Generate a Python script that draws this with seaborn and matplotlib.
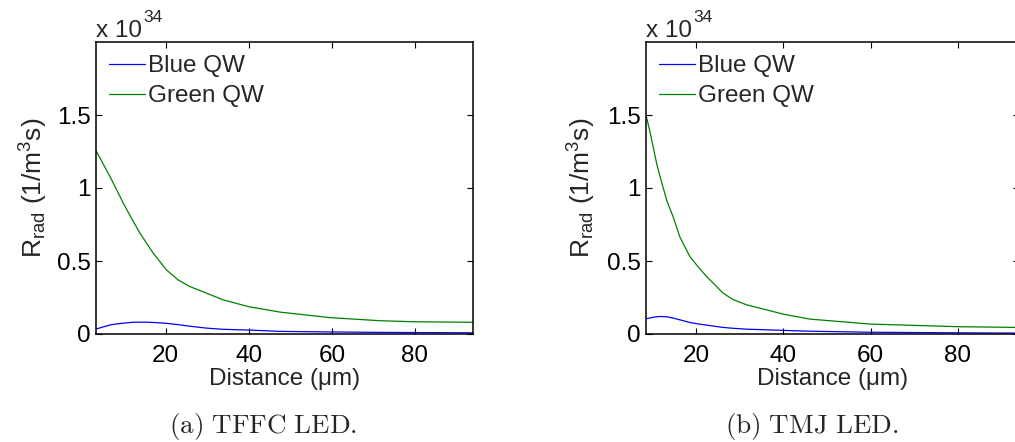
import matplotlib
matplotlib.use("Agg")
import matplotlib.pyplot as plt
import seaborn as sns
import pandas as pd

# ---- data (values in units of 1e34 1/(m^3 s)) ----
dist_a = [3.2, 6.6, 8.2, 9.8, 11.8, 13.8, 15.4, 17.0, 20.2, 23.0, 25.9, 29.9, 33.9, 40.0, 47.5, 59.6, 71.6, 79.6, 94.0]
green_a = [1.255, 1.077, 0.986, 0.895, 0.79, 0.69, 0.621, 0.553, 0.438, 0.37, 0.324, 0.279, 0.233, 0.187, 0.150, 0.112, 0.091, 0.084, 0.080]
blue_a = [0.034, 0.062, 0.069, 0.074, 0.080, 0.081, 0.081, 0.079, 0.073, 0.064, 0.053, 0.040, 0.032, 0.027, 0.018, 0.014, 0.011, 0.010, 0.008]

dist_b = [8.55, 9.5, 10.2, 11.0, 11.8, 13.3, 14.8, 16.3, 18.6, 20.5, 22.4, 26.2, 28.6, 31.6, 40.0, 46.1, 59.9, 80.1, 94.0]
green_b = [1.50, 1.38, 1.28, 1.166, 1.075, 0.915, 0.80, 0.665, 0.53, 0.46, 0.395, 0.28, 0.234, 0.20, 0.136, 0.102, 0.068, 0.050, 0.045]
blue_b = [0.104, 0.110, 0.115, 0.118, 0.120, 0.118, 0.109, 0.097, 0.079, 0.069, 0.061, 0.045, 0.039, 0.033, 0.025, 0.019, 0.012, 0.008, 0.006]

series_names = ["Blue QW", "Green QW"]
series_colors = ["#0000ff", "#008000"]
x_ticks = [20, 40, 60, 80]
y_ticks = [0, 0.5, 1, 1.5]
y_tick_labels = ["0", "0.5", "1", "1.5"]
captions = ["(a) TFFC LED.", "(b) TMJ LED."]

sns.set_style("ticks")
plt.rcParams["font.family"] = ["Liberation Sans", "DejaVu Sans"]
plt.rcParams["mathtext.fontset"] = "custom"
plt.rcParams["mathtext.rm"] = "Liberation Sans"
plt.rcParams["mathtext.it"] = "Liberation Sans:italic"
plt.rcParams["mathtext.bf"] = "Liberation Sans:bold"

W, H = 1015, 442
fig = plt.figure(figsize=(W / 100, H / 100), dpi=100)

def px_axes(l, t, r, b):
    return fig.add_axes([l / W, 1 - b / H, (r - l) / W, (b - t) / H])

panels = [
    (px_axes(96, 42, 473, 334), dist_a, blue_a, green_a, (3.2, 94.0), 263, -0.122),
    (px_axes(646, 42, 1019, 334), dist_b, blue_b, green_b, (8.55, 94.0), 812, -0.129),
]

FS = 17.5
for i, (ax, d, b, g, xl, cap_x, ylx) in enumerate(panels):
    df = pd.DataFrame({
        "Distance": d + d,
        "R": b + g,
        "Series": [series_names[0]] * len(d) + [series_names[1]] * len(d),
    })
    sns.lineplot(data=df, x="Distance", y="R", hue="Series", palette=series_colors,
                 hue_order=series_names, linewidth=0.9, ax=ax, legend=True)
    ax.set_xlim(*xl)
    ax.set_ylim(0, 2)
    ax.set_xticks(x_ticks)
    ax.set_yticks(y_ticks)
    ax.set_yticklabels(y_tick_labels)
    ax.tick_params(direction="in", length=4, width=0.8, labelsize=FS,
                   top=True, right=True, colors="black")
    ax.tick_params(axis="x", pad=8)
    ax.tick_params(axis="y", pad=4)
    for s in ax.spines.values():
        s.set_visible(True)
        s.set_linewidth(1.1)
        s.set_color("black")
    ax.set_xlabel("Distance (μm)", fontsize=FS, labelpad=1)
    ax.set_ylabel(r"R$_{\mathrm{rad}}$ (1/m$^{3}$s)", fontsize=19)
    ax.yaxis.set_label_coords(ylx, 0.5)
    ax.legend(loc="upper left", frameon=False, fontsize=FS, handlelength=1.45,
              handletextpad=0.15, borderaxespad=0.25, borderpad=0.3, labelspacing=0.32)
    # multiplier label
    x0 = ax.get_position().x0
    fig.text(x0, 1 - 37 / H, "x 10", fontsize=FS, ha="left", va="baseline")
    fig.text(x0 + 47 / W, 1 - 22 / H, "34", fontsize=12.5, ha="left", va="baseline")
    fig.text(cap_x / W, 1 - 427 / H, r"$\mathrm{" + captions[i].replace(" ", r"\ ") + "}$",
             fontsize=19.5, ha="center", va="center", math_fontfamily="cm")

fig.savefig("out.png", dpi=100)
